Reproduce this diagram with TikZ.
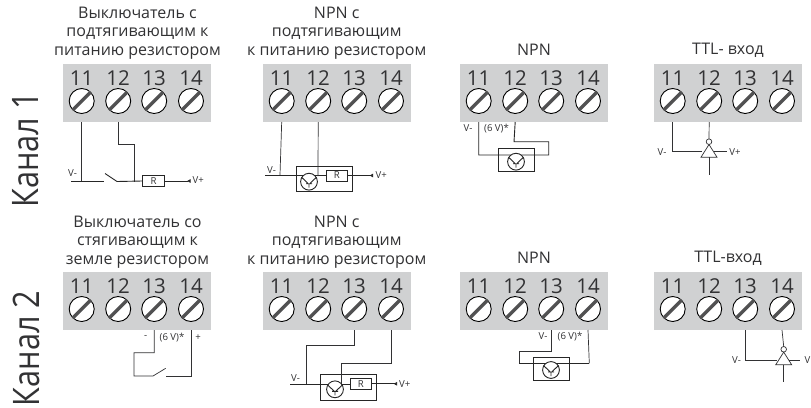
\documentclass[tikz,border=0pt]{standalone}
\usepackage{fontspec}
\setmainfont{Open Sans}
\usetikzlibrary{arrows.meta}
\definecolor{blockgray}{RGB}{208,209,210}
\definecolor{inkd}{RGB}{50,50,52}
\tikzset{
  x=1pt,y=-1pt,
  panel/.style={fill=blockgray,draw=none},
  numlab/.style={font=\fontsize{20.5}{20.5}\selectfont,text=inkd,inner sep=0pt},
  title/.style={font=\fontsize{16}{18.3}\selectfont,text=inkd,align=center,inner sep=0pt},
  small/.style={font=\fontsize{9.6}{9.6}\selectfont,text=inkd,inner sep=0pt},
  wire/.style={draw=inkd,line width=0.7pt},
  bwire/.style={draw=black!85,line width=0.9pt},
  comp/.style={draw=black!85,line width=0.9pt,fill=white},
  resbox/.style={draw=black!85,line width=0.8pt,fill=white,inner sep=0pt,font=\fontsize{9.6}{9.6}\selectfont,text=inkd},
  channel/.style={font=\fontsize{36.5}{36.5}\selectfont,text=inkd,rotate=90,inner sep=0pt},
  tip/.style={-{Latex[length=3.5pt,width=4pt,reversed]}},
}
% terminal block: #1 prefix, #2 left x, #3 top y
\newcommand{\termblock}[3]{%
  \begin{scope}[shift={(#2,#3)}]
    \node[panel,minimum width=148pt,minimum height=58pt,inner sep=0pt,anchor=north west] (#1b) at (0,0) {};
    \foreach \n/\cx in {11/18.7,12/55.2,13/91.2,14/128}{
      \node[numlab] (#1l\n) at (\cx,14.5) {\n};
      \fill[white] (\cx,37) circle (12.5);
      \draw[black,line width=0.9pt] (\cx,37) circle (12.5);
      \draw[draw=inkd!85,line width=3.3pt] (\cx-9,37+9) -- (\cx+9,37-9);
      \coordinate (#1t\n) at (\cx,58);
    }
  \end{scope}}
% transistor symbol at centre
\newcommand{\transistor}[2]{%
  \draw[bwire,fill=white] (#1,#2) circle (8.4);
  \draw[bwire] (#1-7.5,#2-4.5) -- (#1-1.2,#2+1.5) (#1+7.5,#2-4.5) -- (#1+1.2,#2+1.5)
     (#1-3,#2+2) -- (#1+3,#2+2) (#1,#2+2) -- (#1,#2+6);
}
\newcommand{\invgate}[2]{%
  \draw[wire,fill=white] (#1,#2) circle (2.8);
  \draw[wire,fill=white] (#1,#2+2.8) -- (#1-8,#2+15.5) -- (#1+8,#2+15.5) -- cycle;
}
\begin{document}
\begin{tikzpicture}
\clip (0,0) rectangle (811,407);
\fill[white] (0,0) rectangle (811,407);
\node[channel] (ch1) at (26,150) {\scalebox{.84}[1]{Канал 1}};
\node[channel] (ch2) at (26,348.5) {\scalebox{.84}[1]{Канал 2}};

\node[title] (ta1) at (137.5,33) {Выключатель с\\подтягивающим к\\питанию резистором};
\node[title] (tb1) at (336.7,33) {NPN с\\подтягивающим\\к питанию резистором};
\node[title] (tc1) at (534,50) {NPN};
\node[title] (td1) at (728,50) {TTL- вход};
\node[title] (ta2) at (137.5,242) {Выключатель со\\стягивающим к\\земле резистором};
\node[title] (tb2) at (336.7,242) {NPN с\\подтягивающим\\к питанию резистором};
\node[title] (tc2) at (534,258) {NPN};
\node[title] (td2) at (728,258) {TTL-вход};

\termblock{a}{63}{64}
\termblock{b}{263}{64}
\termblock{c}{460}{64}
\termblock{d}{654}{64}
\termblock{e}{63}{272}
\termblock{f}{263}{272}
\termblock{g}{460}{272}
\termblock{h}{654}{272}

% A1
\coordinate (a1) at (71,181); \coordinate (a2) at (103.5,181);
\coordinate (a4) at (105,173.5); \coordinate (a5) at (117,181.5);
\coordinate (aj) at (134,181.5);
\node[small] (a3) at (72.5,173) {V-};
\node[resbox,minimum width=21.6pt,minimum height=11.5pt] (ar) at (153.5,181) {R};
\node[small,anchor=west] (avp) at (192.5,180.5) {V+};
\draw[wire] (at11) -- (81.7,181);
\draw[wire] (at12) |- (134,144) -- (aj);
\draw[bwire] (a1) -- (a2);
\draw[bwire] (a4) -- (a5) -- (ar.west);
\draw[bwire,tip] (ar.east) -- (190.5,181);

% B1
\node[comp,minimum width=56.7pt,minimum height=25.7pt,inner sep=0pt] (bx) at (324.4,178.9) {};
\coordinate (b1) at (265,175);
\node[small] (b2) at (271.5,170) {V-};
\draw[bwire] (b1) -- (326,175);
\draw[wire] (bt11) -- (280,175);
\draw[wire] (bt12) -- (318,176);
\transistor{309}{181.7}
\node[resbox,minimum width=21.5pt,minimum height=11pt] (br) at (336.8,175.5) {R};
\node[small,anchor=west] (bvp) at (375.5,175) {V+};
\draw[bwire,tip] (br.east) -- (373,175.5);

% C1
\node[comp,minimum width=36pt,minimum height=23pt,inner sep=0pt] (cx) at (516,159.5) {};
\draw[bwire] (ct11) |- (548.7,155) |- (514,141.7) -- (ct12);
\transistor{516}{161.7}
\node[small] (c1) at (468,128) {V-};
\node[small] (c2) at (496.5,129) {(6 V)*};

% D1
\invgate{709}{141.7}
\draw[wire] (dt11) |- (702,151.7);
\draw[wire] (dt12) -- (709,139);
\draw[wire] (709,157.2) -- (709,175);
\draw[wire] (714,151.7) -- (726.7,151.7);
\node[small] (d1) at (662,152) {V-};
\node[small] (d2) at (735,152) {V+};

% A2
\draw[wire] (et13) |- (134,352.7) |- (153,376) -- (165.7,368.3);
\draw[wire] (166,376) -| (et14);
\node[small] (e1) at (145.6,337.5) {-};
\node[small] (e2) at (172,338) {(6 V)*};
\node[small] (e3) at (198,337.5) {+};

% B2
\node[comp,minimum width=56.4pt,minimum height=25.7pt,inner sep=0pt] (fx) at (348.5,387.2) {};
\coordinate (f1) at (290,384);
\node[small] (f2) at (295.5,378) {V-};
\draw[bwire] (f1) -- (350,384);
\draw[wire] (ft13) |- (306.7,345) -- (306.7,384);
\draw[wire] (ft14) |- (341.7,363.3) -- (341.7,384);
\transistor{335}{389.3}
\node[resbox,minimum width=21.7pt,minimum height=11pt] (fr) at (360.8,383.8) {R};
\node[small,anchor=west] (fvp) at (399,384) {V+};
\draw[bwire,tip] (fr.east) -- (397,383.8);

% C2
\node[comp,minimum width=36pt,minimum height=22.7pt,inner sep=0pt] (gx) at (551.3,368.7) {};
\draw[wire] (gt13) |- (519.3,351) -- (519.3,363.3);
\draw[bwire] (519.3,363.3) -- (589.3,363.3);
\draw[wire] (gt14) -- (589.3,363.3);
\transistor{551}{370}
\node[small] (g1) at (543,336) {V-};
\node[small] (g2) at (570,337) {(6 V)*};

% D2
\invgate{783.7}{349.3}
\draw[wire] (ht13) |- (776.5,360);
\draw[wire] (ht14) -- (783.7,346.5);
\draw[wire] (783.7,364.8) -- (783.7,382);
\draw[wire] (789,360) -- (800,360);
\node[small] (h1) at (736.5,360) {V-};
\node[small,anchor=west] (h2) at (804.3,360) {V};
\end{tikzpicture}
\end{document}
